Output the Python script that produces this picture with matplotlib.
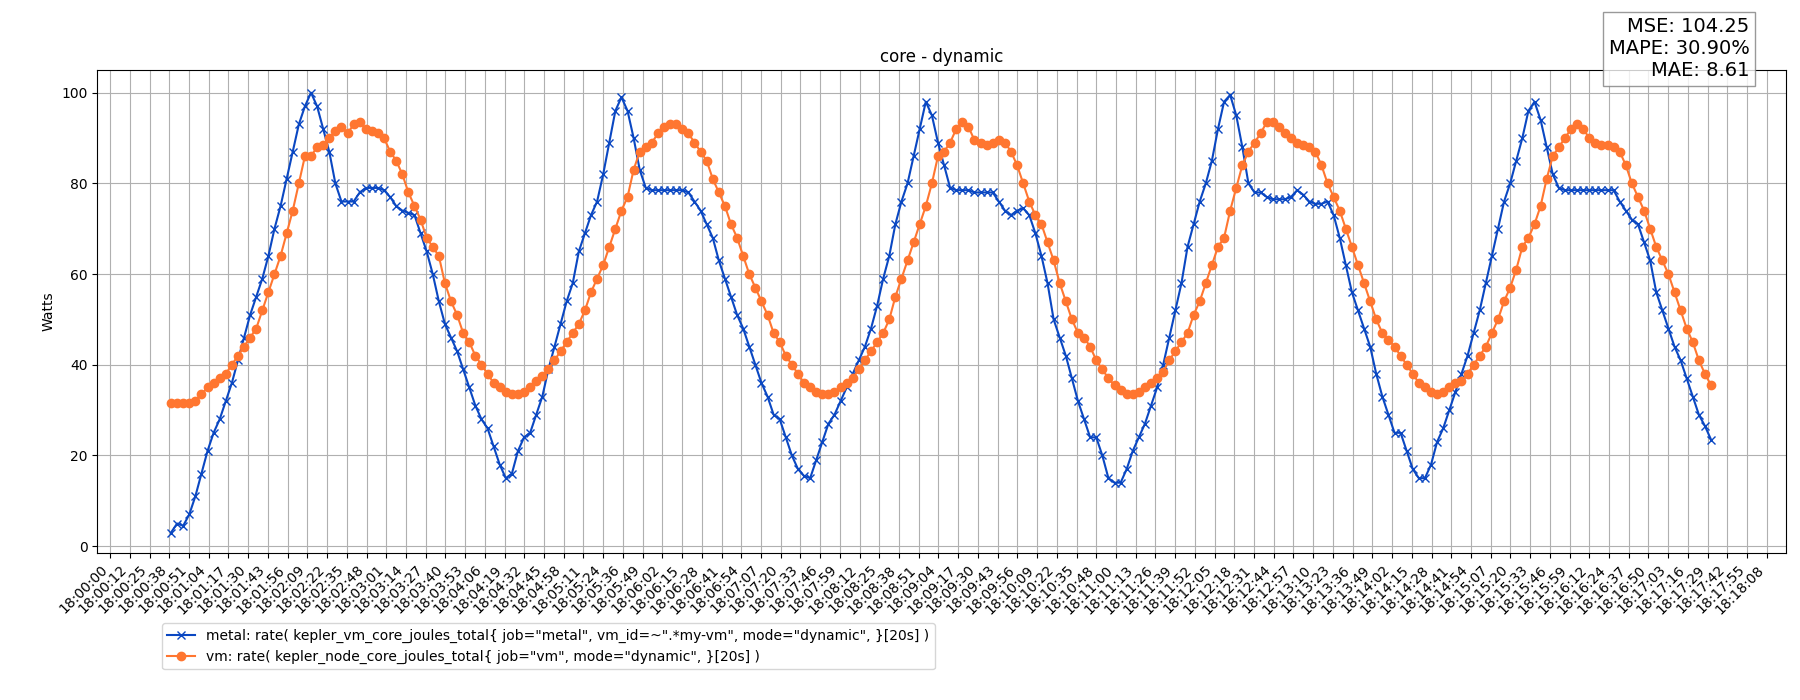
import matplotlib
matplotlib.use("Agg")
import matplotlib.pyplot as plt
import numpy as np

# Seconds after 18:00:00 of the first sample, sampling step (s)
t_start = 40
t_step = 4

metal = [3, 5, 4.5, 7, 11, 16, 21, 25, 28, 32, 36, 41, 46, 51, 55, 59, 64, 70, 75, 81,
         87, 93, 97, 100, 97, 92, 87, 80, 76, 76, 76, 78, 79, 79, 79, 78.5, 77, 75, 74, 73.5,
         73, 69, 65, 60, 54, 49, 46, 43, 39, 35, 31, 28, 26, 22, 18, 15, 16, 21, 24, 25,
         29, 33, 39, 44, 49, 54, 58, 65, 69, 73, 76, 82, 89, 96, 99, 96, 90, 83, 79, 78.5,
         78.5, 78.5, 78.5, 78.5, 78.5, 78, 76, 74, 71, 68, 63, 59, 55, 51, 48, 44, 40, 36, 33, 29,
         28, 24, 20, 17, 15.5, 15, 19, 23, 27, 29, 32, 35, 38, 41, 44, 48, 53, 59, 64, 71,
         76, 80, 86, 92, 98, 95, 89, 84, 79, 78.5, 78.5, 78.5, 78, 78, 78, 78, 76, 74, 73, 74,
         74.5, 73, 69, 64, 58, 50, 46, 42, 37, 32, 28, 24, 24, 20, 15, 14, 14, 17, 21, 24,
         27, 31, 35, 40, 46, 52, 58, 66, 71, 76, 80, 85, 92, 98, 99.5, 95, 88, 80, 78, 78,
         77, 76.5, 76.5, 76.5, 77, 78.5, 77.5, 76, 75.5, 75.5, 76, 73, 68, 62, 56, 52, 48, 44, 38, 33,
         29, 25, 25, 21, 17, 15, 15, 18, 23, 26, 30, 34, 38, 42, 47, 52, 58, 64, 70, 76,
         80, 85, 90, 96, 98, 94, 88, 82, 79, 78.5, 78.5, 78.5, 78.5, 78.5, 78.5, 78.5, 78.5, 78.5, 76, 74,
         72, 71, 67, 63, 56, 52, 48, 44, 41, 37, 33, 29, 26.5, 23.5]

vm = [31.5, 31.5, 31.5, 31.5, 32, 33.5, 35, 36, 37, 38, 40, 42, 44, 46, 48, 52, 56, 60, 64, 69,
      74, 80, 86, 86, 88, 88.5, 90, 91.5, 92.5, 91, 93, 93.5, 92, 91.5, 91, 90, 87, 85, 82, 78,
      75, 72, 68, 66, 64, 58, 54, 51, 47, 45, 42, 40, 38, 36, 35, 34, 33.5, 33.5, 34, 35,
      36.5, 37.5, 39, 41, 43, 45, 47, 49, 52, 56, 59, 62, 66, 70, 74, 77, 83, 87, 88, 89,
      91, 92.5, 93, 93, 92, 91, 89, 87, 85, 81, 78, 75, 71, 68, 64, 60, 57, 54, 51, 47,
      45, 42, 40, 38, 36, 35, 34, 33.5, 33.5, 34, 35, 36, 37, 39, 41, 43, 45, 47, 50, 55,
      59, 63, 67, 71, 75, 80, 86, 87, 89, 92, 93.5, 92.5, 89.5, 89, 88.5, 89, 89.5, 89, 87, 84,
      80, 76, 73, 71, 67, 63, 58, 54, 50, 47, 46, 44, 41, 39, 37, 35.5, 34.5, 33.5, 33.5, 34,
      35, 36, 37, 38.5, 41, 43, 45, 47, 51, 54, 58, 62, 66, 68, 74, 79, 84, 87, 89, 91,
      93.5, 93.5, 92.5, 91, 90, 89, 88.5, 88, 87, 84, 80, 77, 74, 70, 66, 62, 58, 54, 50, 47,
      45.5, 44, 42, 40, 38, 36, 35, 34, 33.5, 34, 35, 36, 36.5, 38, 40, 42, 44, 47, 50, 54,
      57, 61, 66, 68, 71, 75, 81, 86, 88, 90, 92, 93, 92, 90, 89, 88.5, 88.5, 88, 87, 84,
      80, 77, 74, 70, 66, 63, 60, 56, 52, 48, 45, 41, 38, 35.5]

metal_label = 'metal: rate( kepler_vm_core_joules_total{ job="metal", vm_id=~".*my-vm", mode="dynamic", }[20s] )'
vm_label = 'vm: rate( kepler_node_core_joules_total{ job="vm", mode="dynamic", }[20s] )'
stats_text = "MSE: 104.25\nMAPE: 30.90%\nMAE: 8.61"

# Tick positions: 85 evenly spaced ticks from 18:00:00, labels truncated to seconds
tick_pos = np.linspace(0, 1088.64, 85)
tick_labels = ["18:{:02d}:{:02d}".format(int(s) // 60, int(s) % 60) for s in tick_pos]

t_metal = t_start + t_step * np.arange(len(metal))
t_vm = t_start + t_step * np.arange(len(vm))

fig = plt.figure(figsize=(18, 7), dpi=100)
ax = fig.add_axes([0.054, 0.21, 0.938, 0.69])
ax.plot(t_metal, metal, color="#0a47c2", marker="x", markersize=6, linewidth=1.5,
        label=metal_label)
ax.plot(t_vm, vm, color="#ff7630", marker="o", markersize=6, linewidth=1.5,
        label=vm_label)
ax.set_xticks(tick_pos)
ax.set_xticklabels(tick_labels, rotation=45, ha="right")
ax.set_xlim(-8.5, 1101)
ax.set_ylim(-1.5, 105)
ax.set_yticks([0, 20, 40, 60, 80, 100])
ax.grid(True, color="#b0b0b0")
ax.set_axisbelow(True)
ax.set_title("core - dynamic")
ax.set_ylabel("Watts")

handles, labels = ax.get_legend_handles_labels()
fig.legend(handles, labels, loc="upper left", bbox_to_anchor=(0.086, 0.12))
fig.text(0.972, 0.975, stats_text, ha="right", va="top", fontsize=14,
         bbox=dict(boxstyle="square,pad=0.3", facecolor="white",
                   edgecolor="gray", alpha=0.8))

fig.savefig("out.png")
plt.close(fig)
